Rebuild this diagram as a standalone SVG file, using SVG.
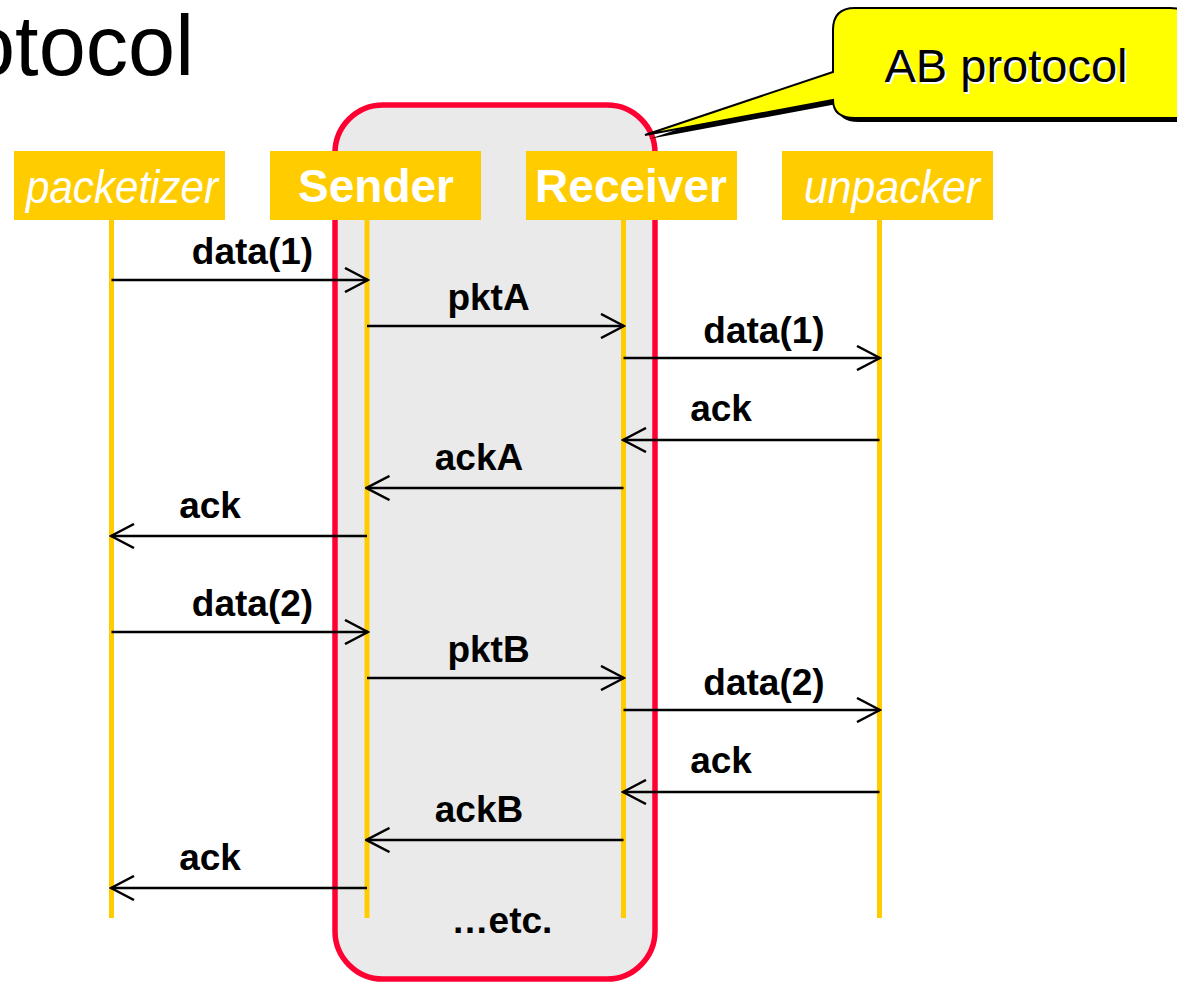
<svg xmlns="http://www.w3.org/2000/svg" width="1177" height="983" viewBox="0 0 1177 983">
<defs>
<style>
.hdr{fill:#FFCC00}
.life{stroke:#FFCC00;stroke-width:5;fill:none}
.msg{stroke:#000;stroke-width:2.5;fill:none}
.lbl{font-family:"Liberation Sans",Arial,sans-serif;font-weight:bold;font-size:37px;fill:#000;text-anchor:middle}
.hb{font-family:"Liberation Sans",Arial,sans-serif;font-weight:bold;font-size:46px;fill:#fff;text-anchor:middle}
.hi{font-family:"Liberation Sans Narrow","Liberation Sans",Arial,sans-serif;font-style:italic;font-size:47px;fill:#fff;text-anchor:middle}
</style>
<marker id="open" viewBox="0 0 26 26" refX="24" refY="13" markerWidth="26" markerHeight="26" markerUnits="userSpaceOnUse" orient="auto">
<path d="M1,1 L24,13 L1,25" fill="none" stroke="#000" stroke-width="2.5"/>
</marker>
</defs>
<rect width="1177" height="983" fill="#fff"/>
<text x="-32" y="75" font-family="'Liberation Sans',Arial,sans-serif" font-size="86" fill="#000" textLength="226" lengthAdjust="spacingAndGlyphs">otocol</text>

<g id="ab-protocol-box">
<rect x="335" y="105" width="320" height="874" rx="48" ry="48" fill="#EAEAEA" stroke="#FF0033" stroke-width="5.5"/>
</g>

<g id="callout">
<path d="M859,12 H1174 Q1202,12 1202,34 V100 Q1202,122 1180,122 H859 Q837,122 837,104 L649,139 L837,76 V34 Q837,12 859,12 Z" fill="#000"/>
<path d="M855,8 H1170 Q1198,8 1198,30 V96 Q1198,118 1176,118 H855 Q833,118 833,100 L645,135 L833,72 V30 Q833,8 855,8 Z" fill="#FFFF00" stroke="#000" stroke-width="2"/>
<text x="1008" y="84" font-family="'Liberation Sans',Arial,sans-serif" font-size="47" fill="#fff" text-anchor="middle">AB protocol</text>
<text x="1006" y="82" font-family="'Liberation Sans',Arial,sans-serif" font-size="47" fill="#000" text-anchor="middle">AB protocol</text>
</g>

<g id="lifelines">
<line class="life" x1="111.5" y1="218" x2="111.5" y2="918"/>
<line class="life" x1="367" y1="218" x2="367" y2="918"/>
<line class="life" x1="623.5" y1="218" x2="623.5" y2="918"/>
<line class="life" x1="879.5" y1="218" x2="879.5" y2="918"/>
</g>

<g id="packetizer">
<rect class="hdr" x="14" y="151" width="211" height="69"/>
<text class="hi" x="122" y="203" textLength="192" lengthAdjust="spacingAndGlyphs">packetizer</text>
</g>
<g id="sender">
<rect class="hdr" x="270" y="151" width="211" height="69"/>
<text class="hb" x="376" y="202">Sender</text>
</g>
<g id="receiver">
<rect class="hdr" x="526" y="151" width="211" height="69"/>
<text class="hb" x="631" y="202">Receiver</text>
</g>
<g id="unpacker">
<rect class="hdr" x="782" y="151" width="211" height="69"/>
<text class="hi" x="892" y="203" textLength="176" lengthAdjust="spacingAndGlyphs">unpacker</text>
</g>

<g id="connectors">
<line class="msg" x1="111.5" y1="280" x2="368" y2="280" marker-end="url(#open)"/>
<line class="msg" x1="367" y1="326" x2="624" y2="326" marker-end="url(#open)"/>
<line class="msg" x1="623.5" y1="358" x2="880" y2="358" marker-end="url(#open)"/>
<line class="msg" x1="879.5" y1="440" x2="623" y2="440" marker-end="url(#open)"/>
<line class="msg" x1="623.5" y1="488" x2="366.5" y2="488" marker-end="url(#open)"/>
<line class="msg" x1="367" y1="536" x2="111" y2="536" marker-end="url(#open)"/>
<line class="msg" x1="111.5" y1="632" x2="368" y2="632" marker-end="url(#open)"/>
<line class="msg" x1="367" y1="678" x2="624" y2="678" marker-end="url(#open)"/>
<line class="msg" x1="623.5" y1="710" x2="880" y2="710" marker-end="url(#open)"/>
<line class="msg" x1="879.5" y1="792" x2="623" y2="792" marker-end="url(#open)"/>
<line class="msg" x1="623.5" y1="840" x2="366.5" y2="840" marker-end="url(#open)"/>
<line class="msg" x1="367" y1="888" x2="111" y2="888" marker-end="url(#open)"/>
</g>

<g id="labels">
<text class="lbl" x="252.5" y="264">data(1)</text>
<text class="lbl" x="488.5" y="310">pktA</text>
<text class="lbl" x="764" y="343">data(1)</text>
<text class="lbl" x="721" y="421">ack</text>
<text class="lbl" x="479" y="470">ackA</text>
<text class="lbl" x="210" y="518">ack</text>
<text class="lbl" x="252.5" y="616">data(2)</text>
<text class="lbl" x="488.5" y="662">pktB</text>
<text class="lbl" x="764" y="695">data(2)</text>
<text class="lbl" x="721" y="773">ack</text>
<text class="lbl" x="479" y="822">ackB</text>
<text class="lbl" x="210" y="870">ack</text>
<text class="lbl" x="502" y="933">…etc.</text>
</g>
</svg>
